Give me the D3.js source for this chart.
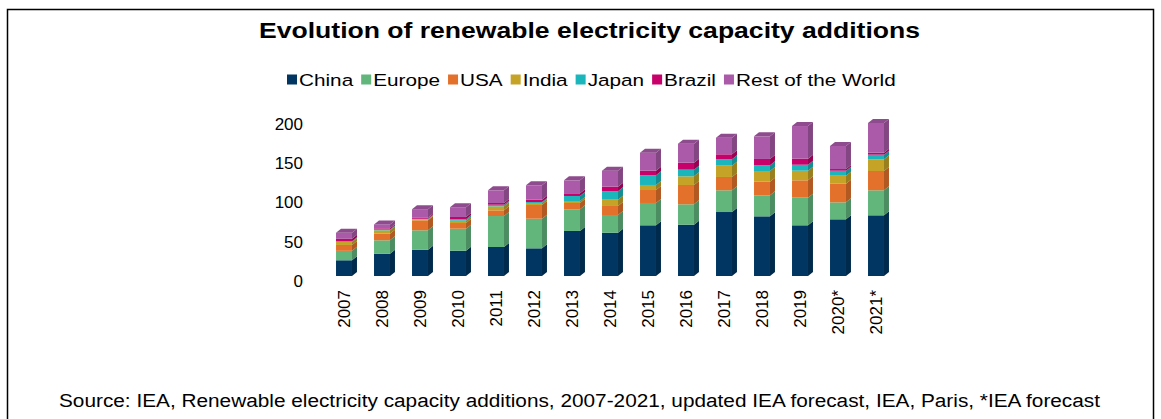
<!DOCTYPE html>
<html><head><meta charset="utf-8">
<script src="https://cdn.jsdelivr.net/npm/d3@7"></script>
<style>body{margin:0;background:#fff;}svg{display:block;font-family:Arial,"Liberation Sans",sans-serif;}</style>
</head><body><svg id="c" width="1161" height="419"></svg>
<script>
const years = ["2007","2008","2009","2010","2011","2012","2013","2014","2015","2016","2017","2018","2019","2020*","2021*"];
const seriesNames = ["China","Europe","USA","India","Japan","Brazil","Rest of the World"];
const seriesColors = ["#003661","#62b67c","#e4712b","#c5a326","#1ab6bc","#c8006a","#aa5aa8"];
const china  = [20,28.4,33.5,32.2,36.9,35.2,57.3,55.1,64.5,65.3,81.4,75.9,64.5,72.1,77.2];
const europe = [12,17,24.6,28,39.4,37.7,27.5,22.5,28.4,25.9,27.6,26.7,35.2,21.6,31.8];
const usa    = [7.5,8.5,12.7,7.2,7.2,17.4,8.1,11.5,16.5,24.6,17,17.4,22,23.7,24.6];
const india  = [3.8,4.2,1.2,3,5.1,2.6,2.5,8,6.4,11,14.4,13.6,12.3,10.2,14.8];
const japan  = [1,1,0.8,1.7,2.1,1.2,6.4,10.6,12.3,8.5,8,7.2,7.6,6.4,6];
const brazil = [3,1.5,1.2,3,2.2,3,3.4,6,5.9,8.9,6.4,8.1,7.7,2.1,2.5];
const rest   = [7.7,5,11,12.4,16.1,18.3,16.5,20.3,22.9,24.2,21.2,28.8,41.5,29.3,37.8];
const yTicks = [0,50,100,150,200];
const titleText = "Evolution of renewable electricity capacity additions";
const sourceText = "Source: IEA, Renewable electricity capacity additions, 2007-2021, updated IEA forecast, IEA, Paris, *IEA forecast";

const seriesValues = [china, europe, usa, india, japan, brazil, rest];
const table = years.map((y,i)=>{const o={year:y}; seriesNames.forEach((s,k)=>o[s]=seriesValues[k][i]); return o;});
const stacked = d3.stack().keys(seriesNames)(table);

const svg = d3.select("#c");
// frame
svg.append("rect").attr("x",7.5).attr("y",9.5).attr("width",1146).attr("height",430)
  .attr("fill","none").attr("stroke","#000").attr("stroke-width",1.5);

svg.append("text").attr("x",589.5).attr("y",38).attr("text-anchor","middle")
  .attr("font-size",22).attr("font-weight","bold").attr("fill","#000")
  .attr("textLength",661).attr("lengthAdjust","spacingAndGlyphs").text(titleText);

const x = d3.scaleBand().domain(years).range([325,895]).paddingInner(0.58).paddingOuter(0.29);
const y = d3.scaleLinear().domain([0,200]).range([276,118.8]);
const color = d3.scaleOrdinal().domain(seriesNames).range(seriesColors);
const dx = 5, dy = 4;
const stretch = 1.22;

// legend
const legend = svg.append("g").attr("font-size",17);
let lx = 287;
seriesNames.forEach(s=>{
  const g = legend.append("g").attr("transform",`translate(${lx},80)`);
  g.append("rect").attr("x",0).attr("y",-5.5).attr("width",10).attr("height",10).attr("fill",color(s));
  const t = g.append("text").attr("transform",`translate(12,0) scale(${stretch},1)`).attr("dy","0.35em").attr("fill","#000").text(s);
  lx += 12 + t.node().getComputedTextLength()*stretch + 8;
});

// y axis labels
const yAxis = d3.axisLeft(y).tickValues(yTicks).tickSize(0).tickPadding(0);
const ya = svg.append("g").attr("transform","translate(303,5)").call(yAxis);
ya.select(".domain").remove();
ya.selectAll("text").attr("font-size",17).attr("fill","#000").attr("font-family","Arial, 'Liberation Sans', sans-serif");

// x axis labels
const xAxis = d3.axisBottom(x).tickSize(0).tickPadding(0);
const xa = svg.append("g").attr("transform","translate(0,290)").call(xAxis);
xa.select(".domain").remove();
xa.selectAll("text").attr("font-size",17).attr("fill","#000").attr("font-family","Arial, 'Liberation Sans', sans-serif")
  .attr("text-anchor","end").attr("transform","rotate(-90)").attr("x",0).attr("y",0).attr("dx",0).attr("dy","0.35em");

// bars
const bars = svg.append("g");
stacked.forEach((layer,k)=>{
  const c = color(layer.key);
  const side = d3.color(c).darker(0.7).formatHex();
  layer.forEach((d,i)=>{
    const x0 = x(years[i]), x1 = x0 + x.bandwidth();
    const yb = y(d[0]), yt = y(d[1]);
    bars.append("rect").attr("x",x0).attr("y",yt).attr("width",x.bandwidth()).attr("height",yb-yt).attr("fill",c);
    bars.append("path").attr("d",`M${x1},${yb}L${x1+dx},${yb-dy}L${x1+dx},${yt-dy}L${x1},${yt}Z`).attr("fill",side);
    if(k===stacked.length-1){
      const top = d3.color(c).darker(0.5).formatHex();
      bars.append("path").attr("d",`M${x0},${yt}L${x0+dx},${yt-dy}L${x1+dx},${yt-dy}L${x1},${yt}Z`).attr("fill",top);
    }
  });
});

svg.append("text").attr("x",579.5).attr("y",407).attr("text-anchor","middle")
  .attr("font-size",18).attr("fill","#000")
  .attr("textLength",1041).attr("lengthAdjust","spacingAndGlyphs").text(sourceText);
</script></body></html>
